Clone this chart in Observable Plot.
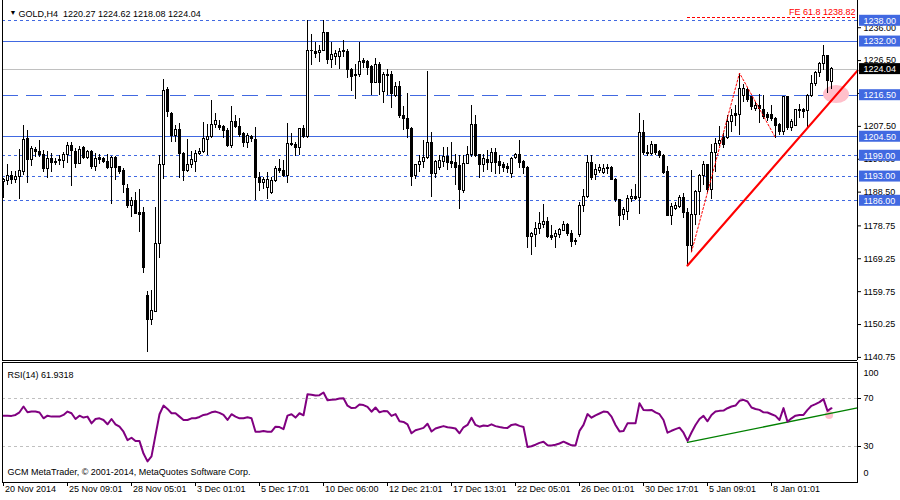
<!DOCTYPE html>
<html><head><meta charset="utf-8">
<script src="https://cdn.jsdelivr.net/npm/d3@7"></script>
<script src="https://cdn.jsdelivr.net/npm/@observablehq/plot@0.6"></script>
<style>
body{margin:0;background:#fff;}
#wrap{position:relative;width:900px;height:500px;overflow:hidden;background:#fff;}
#main{position:absolute;left:0;top:0;}
#rsi{position:absolute;left:0;top:362px;}
</style></head><body><div id="wrap"><div id="main"></div><div id="rsi"></div></div>
<script>
const opens=[
1191.4,1191.7,1193.2,1192.1,1192.9,1194.3,1203.9,1197.9,1200.8,1200.2,
1199.3,1195.2,1198.1,1197.3,1197.9,1197.6,1199.3,1201.7,1200.2,1196.7,
1201.2,1198.3,1200.0,1195.7,1198.3,1198.1,1197.3,1195.4,1198.5,1195.7,
1194.5,1189.4,1184.4,1185.8,1182.5,1182.5,1158.6,1151.6,1154.0,1173.6,
1196.2,1218.1,1211.1,1204.6,1206.5,1199.6,1194.6,1196.4,1197.1,1199.6,
1200.2,1203.7,1204.4,1207.9,1207.7,1207.3,1206.2,1201.8,1208.8,1207.2,
1205.3,1202.7,1204.4,1203.7,1192.6,1191.2,1189.6,1188.2,1191.8,1195.2,
1194.7,1193.1,1202.4,1202.0,1201.3,1206.6,1204.4,1229.4,1229.1,1228.7,
1229.3,1234.5,1226.8,1227.6,1227.6,1229.0,1229.1,1223.7,1222.4,1222.2,
1226.4,1226.0,1224.6,1220.0,1225.3,1217.4,1222.4,1222.4,1216.4,1219.0,
1210.6,1209.7,1206.8,1193.3,1196.4,1197.1,1198.3,1202.8,1193.7,1195.4,
1197.1,1198.6,1197.1,1196.8,1196.0,1188.7,1196.7,1199.1,1208.0,1199.1,
1196.4,1197.9,1197.0,1199.8,1197.1,1196.2,1195.7,1193.7,1198.3,1199.1,
1197.1,1195.5,1175.5,1176.0,1177.9,1179.1,1180.0,1175.8,1175.5,1176.1,
1177.4,1179.0,1176.4,1174.4,1176.0,1184.6,1187.0,1196.9,1193.5,1194.7,
1194.0,1195.5,1195.5,1192.1,1186.1,1181.9,1182.7,1186.5,1187.1,1186.7,
1205.6,1199.8,1199.5,1202.2,1200.0,1198.9,1194.3,1181.7,1183.7,1184.2,
1186.9,1182.5,1172.9,1181.9,1188.5,1193.1,1196.4,1189.2,1199.8,1202.4,
1204.1,1204.1,1208.9,1211.0,1210.8,1216.2,1217.9,1215.9,1212.6,1213.5,
1212.1,1210.8,1210.8,1209.7,1207.9,1205.8,1215.9,1207.0,1207.7,1212.3,
1212.1,1211.8,1216.4,1219.8,1222.9,1225.6,1227.7,1220.27];
const highs=[
1192.3,1196.5,1194.5,1194.5,1200.7,1207.7,1206.3,1201.8,1201.5,1203.3,
1200.5,1200.2,1199.6,1198.1,1199.1,1200.0,1202.9,1202.7,1201.0,1201.7,
1201.6,1200.5,1200.5,1199.8,1199.3,1198.6,1199.3,1198.8,1198.8,1196.0,
1195.2,1190.6,1187.0,1188.5,1189.2,1184.1,1159.8,1160.1,1184.1,1199.1,
1221.0,1218.8,1211.4,1207.7,1208.2,1200.0,1203.7,1200.2,1200.5,1201.2,
1208.5,1207.9,1215.0,1211.1,1209.2,1207.7,1206.8,1213.3,1210.6,1209.7,
1205.8,1205.3,1205.0,1207.3,1194.3,1192.8,1194.3,1192.8,1196.0,1197.9,
1197.6,1208.4,1205.3,1202.9,1206.8,1207.7,1238.0,1234.0,1231.8,1231.0,
1238.0,1234.7,1231.8,1229.4,1229.9,1232.3,1229.6,1224.3,1225.3,1231.8,
1227.0,1226.5,1225.1,1227.0,1226.0,1223.2,1223.9,1223.3,1220.3,1220.6,
1213.3,1216.9,1207.2,1196.6,1199.1,1203.4,1223.3,1205.8,1197.6,1199.1,
1201.5,1201.5,1202.9,1199.3,1199.1,1199.1,1201.7,1213.5,1210.6,1199.3,
1199.3,1200.5,1201.0,1201.0,1199.1,1197.1,1196.7,1198.6,1199.8,1203.4,
1197.6,1196.0,1176.9,1179.6,1182.7,1184.8,1181.3,1178.9,1177.4,1177.9,
1180.0,1179.5,1177.4,1175.0,1185.4,1189.2,1199.1,1199.1,1196.4,1196.4,
1196.4,1196.4,1196.0,1192.5,1186.5,1184.1,1187.5,1189.4,1190.6,1211.1,
1209.1,1202.0,1203.1,1202.4,1200.5,1199.3,1196.0,1185.1,1185.4,1187.5,
1188.0,1183.7,1194.7,1189.0,1193.5,1197.3,1196.6,1202.2,1204.1,1207.5,
1205.3,1210.6,1212.4,1213.5,1222.9,1219.5,1218.3,1216.2,1214.3,1216.6,
1216.4,1211.6,1213.5,1210.1,1208.2,1216.2,1216.2,1209.5,1212.4,1213.7,
1212.7,1216.6,1222.2,1223.3,1226.0,1230.9,1228.0,1224.62];
const lows=[
1186.7,1190.4,1190.6,1190.9,1186.5,1193.3,1190.9,1196.0,1198.6,1198.6,
1194.3,1192.5,1194.1,1196.2,1196.2,1195.4,1196.7,1190.2,1195.2,1196.4,
1197.9,1197.9,1195.0,1194.5,1196.4,1196.7,1195.0,1185.0,1192.0,1193.5,
1188.0,1183.7,1181.3,1181.9,1176.9,1164.9,1142.3,1150.1,1153.8,1169.2,
1192.1,1210.1,1202.7,1202.7,1192.3,1191.7,1194.3,1195.2,1194.1,1199.1,
1199.6,1199.1,1203.9,1206.8,1206.3,1204.1,1201.5,1201.2,1206.8,1204.4,
1201.5,1201.2,1202.7,1186.1,1188.7,1189.4,1186.5,1187.8,1191.4,1193.8,
1192.7,1190.9,1201.8,1198.9,1199.1,1204.1,1204.1,1225.1,1227.2,1226.0,
1229.1,1225.3,1224.1,1225.1,1223.9,1227.5,1221.4,1217.6,1215.4,1221.7,
1224.1,1222.2,1216.4,1219.8,1216.4,1214.0,1216.4,1212.6,1215.9,1209.7,
1206.3,1204.1,1190.2,1192.1,1194.1,1195.2,1197.9,1187.0,1192.5,1194.7,
1195.7,1194.7,1195.2,1190.4,1183.4,1188.0,1196.4,1198.6,1198.6,1192.3,
1194.1,1194.7,1194.1,1193.5,1193.5,1194.3,1193.8,1192.5,1197.9,1195.2,
1193.5,1172.3,1170.2,1172.6,1176.2,1177.9,1175.0,1174.5,1172.3,1175.2,
1177.1,1175.8,1172.6,1173.1,1175.5,1182.7,1186.7,1191.9,1191.9,1193.8,
1193.5,1193.5,1191.9,1185.6,1178.7,1180.3,1180.3,1185.6,1186.0,1182.0,
1199.1,1198.9,1199.1,1199.1,1198.3,1193.5,1181.5,1179.0,1183.3,1183.9,
1180.8,1167.3,1171.2,1178.9,1181.7,1190.4,1188.5,1186.5,1194.3,1201.8,
1201.2,1203.7,1205.8,1207.5,1204.9,1214.3,1214.5,1212.1,1211.8,1208.2,
1209.5,1208.9,1208.9,1204.1,1205.0,1205.0,1206.3,1206.0,1207.5,1209.7,
1209.7,1206.8,1215.9,1219.1,1221.7,1223.6,1216.9,1218.08];
const closes=[
1191.9,1193.2,1192.1,1192.8,1194.5,1203.7,1197.9,1201.0,1200.0,1199.1,
1195.2,1198.1,1197.0,1196.8,1197.5,1199.3,1201.7,1200.4,1196.6,1200.7,
1198.3,1200.0,1195.7,1198.1,1197.9,1197.3,1195.4,1198.5,1195.5,1194.3,
1190.6,1184.4,1185.8,1182.1,1181.9,1166.5,1151.6,1154.2,1173.6,1196.2,
1217.8,1211.6,1204.6,1206.5,1199.6,1194.6,1196.4,1197.9,1199.6,1200.2,
1203.9,1204.4,1207.9,1209.1,1207.0,1206.2,1201.8,1208.8,1207.3,1204.9,
1202.7,1204.7,1203.9,1192.6,1191.2,1192.1,1192.1,1191.8,1195.2,1194.5,
1193.1,1202.4,1202.1,1201.3,1206.6,1204.4,1229.3,1229.2,1228.4,1229.3,
1234.5,1226.8,1228.2,1228.3,1229.1,1229.3,1223.7,1221.7,1222.1,1226.0,
1225.8,1224.3,1220.0,1225.3,1220.0,1222.2,1222.0,1216.8,1219.0,1210.4,
1209.7,1206.8,1192.8,1196.4,1197.3,1198.5,1202.6,1193.7,1197.1,1197.6,
1198.6,1197.0,1196.7,1195.4,1189.2,1196.7,1199.3,1208.0,1198.9,1196.4,
1198.1,1197.0,1199.8,1197.0,1196.0,1195.4,1195.2,1198.1,1199.1,1197.0,
1195.5,1175.5,1176.3,1177.9,1179.3,1180.0,1175.5,1175.2,1176.4,1177.6,
1179.0,1176.3,1174.0,1174.0,1184.6,1187.0,1196.9,1192.5,1195.0,1195.5,
1195.2,1195.2,1192.1,1186.1,1181.7,1183.2,1186.5,1187.1,1186.5,1205.6,
1199.8,1199.5,1202.2,1199.8,1198.8,1194.1,1181.7,1184.1,1184.4,1186.9,
1182.5,1172.9,1181.9,1188.5,1193.3,1196.4,1189.2,1199.8,1202.4,1203.4,
1202.0,1208.9,1210.6,1210.6,1218.3,1218.3,1215.0,1213.0,1213.3,1212.4,
1210.1,1209.9,1209.5,1207.7,1205.8,1215.9,1207.0,1208.9,1212.1,1211.9,
1211.6,1216.4,1219.8,1222.9,1225.6,1227.7,1220.5,1224.04];
const rsiValues=[
55.7,55.7,55.5,56.3,58.5,63.3,58.5,59.1,59.1,58.3,
53.5,55.7,54.9,54.9,54.9,56.3,59.1,57.7,52.9,55.7,
54.1,54.9,49.3,52.9,53.5,52.1,48.5,52.9,48.5,46.5,
42.3,35.3,37.3,34.5,34.5,24.1,17.6,21.8,39.5,56.9,
64.1,61.3,57.7,57.7,54.9,52.1,52.1,53.5,53.5,54.6,
56.3,56.9,58.5,59.1,58.0,56.3,52.1,56.9,54.9,53.5,
53.5,54.3,53.5,42.3,42.3,42.9,42.3,42.3,46.5,46.2,
44.5,55.7,56.9,54.1,57.7,56.0,73.5,73.2,72.5,72.8,
75.0,68.5,69.0,69.2,70.0,70.2,64.0,62.0,62.3,65.0,
64.5,63.0,59.0,62.5,58.5,59.5,59.3,55.5,57.0,51.0,
50.5,48.5,41.0,43.5,44.5,45.5,49.0,42.5,45.0,46.0,
47.0,46.0,45.7,45.0,41.0,46.0,48.0,54.0,48.0,46.5,
47.5,47.0,48.5,47.0,46.2,45.7,45.5,48.0,48.5,47.2,
46.2,29.5,30.2,31.5,33.0,34.0,31.0,30.8,31.5,32.5,
34.0,32.5,31.0,30.8,43.0,48.0,57.0,54.0,56.0,57.5,
59.1,58.8,54.9,47.9,42.6,42.9,49.3,49.3,49.3,66.1,
60.5,60.2,60.5,58.5,56.9,52.1,41.5,43.1,44.5,45.7,
41.5,34.7,41.7,47.9,52.9,55.5,51.0,56.3,59.1,59.7,
59.9,61.9,63.3,64.1,68.1,68.9,67.5,62.5,61.3,60.5,
58.5,58.3,56.9,55.5,52.1,62.0,50.7,53.5,55.7,56.3,
56.3,60.5,63.9,65.3,67.0,69.5,59.7,61.93];

const timeTickIndex=[0,16,32,48,64,80,96,112,128,144,160,176,192];
const timeTickLabels=["20 Nov 2014","25 Nov 09:01","28 Nov 05:01","3 Dec 01:01","5 Dec 17:01","10 Dec 06:00","12 Dec 21:01","17 Dec 13:01","22 Dec 05:01","26 Dec 01:01","30 Dec 17:01","5 Jan 09:01","8 Jan 01:01"];
const priceTicks=[1140.75,1150.25,1159.75,1169.25,1178.75,1188.50,1198.00,1207.50,1217.00,1226.50,1236.00];
const dotLevels=[1238,1199,1193,1186];
const solidLevels=[1232,1204.5];
const dashLevels=[1216.5];
const levelLabels=[1238,1232,1216.5,1204.5,1199,1193,1186];
const lastPrice=[1224.04];
const trendLine=[{i:171,p:1167.3},{i:213.5,p:1223.6}];
const fiboPath=[{i:172,p:1171.2},{i:184,p:1222.9},{i:193,p:1204.2}];
const fiboLevel=[{i1:171,i2:213.5,p:1238.82,label:"FE 61.8 1238.82"}];
const highlight=[{i1:205,i2:211.5,p1:1214.1,p2:1219.3}];
const rsiLevels=[70,30];
const rsiTrend=[{i:171,v:33.4},{i:213.5,v:62.2}];
const rsiMark=[{i:206.4,v:56.3}];
const titleText=["GOLD,H4  1220.27 1224.62 1218.08 1224.04"];
const rsiTitle=["RSI(14) 61.9318"];
const copyright=["GCM MetaTrader, \u00a9 2001-2014, MetaQuotes Software Corp."];

const BLUE="#4169e1";
const FONT="'Liberation Sans', Arial, sans-serif";
const candles=closes.map((c,i)=>({i,o:opens[i],h:highs[i],l:lows[i],c}));
const bull=candles.filter(d=>d.c>=d.o), bear=candles.filter(d=>d.c<d.o);
const XD=[-0.25,213.5];

const main=Plot.plot({
  width:900,height:362,marginLeft:2,marginRight:43,marginTop:0,marginBottom:2,
  x:{domain:XD,axis:null},
  y:{domain:[1139.86,1243.86],axis:null},
  style:{fontFamily:FONT,fontSize:"9px",background:"white",color:"black",overflow:"visible"},
  marks:[
    Plot.ruleY(dotLevels,{stroke:BLUE,strokeDasharray:"3,3",shapeRendering:"crispEdges"}),
    Plot.ruleY(solidLevels,{stroke:BLUE,shapeRendering:"crispEdges"}),
    Plot.ruleY(dashLevels,{stroke:BLUE,strokeDasharray:"16,8",shapeRendering:"crispEdges"}),
    Plot.ruleY(lastPrice,{stroke:"#c0c0c0",shapeRendering:"crispEdges"}),
    Plot.ruleY(fiboLevel,{y:"p",x1:"i1",x2:"i2",stroke:"red",strokeDasharray:"3,2",shapeRendering:"crispEdges"}),
    Plot.rect(highlight,{x1:"i1",x2:"i2",y1:"p1",y2:"p2",rx:13,ry:9,fill:"#ffc0cb"}),
    Plot.ruleX(candles,{x:"i",y1:"l",y2:"h",stroke:"black",shapeRendering:"crispEdges"}),
    Plot.rect(bull,{x1:d=>d.i-0.25,x2:d=>d.i+0.25,y1:"o",y2:"c",fill:"white",stroke:"black",shapeRendering:"crispEdges"}),
    Plot.rect(bear,{x1:d=>d.i-0.25,x2:d=>d.i+0.25,y1:"o",y2:"c",fill:"black",stroke:"black",shapeRendering:"crispEdges"}),
    Plot.line(fiboPath,{x:"i",y:"p",stroke:"red",strokeWidth:1,strokeDasharray:"2,2"}),
    Plot.line(trendLine,{x:"i",y:"p",stroke:"red",strokeWidth:2.2}),
    Plot.text(fiboLevel,{x:"i2",y:"p",text:"label",textAnchor:"end",dx:-2,dy:-6,fill:"red"}),
    Plot.ruleX([XD[0],XD[1]],{stroke:"black"}),
    Plot.ruleY([1139.86],{stroke:"black"}),
    Plot.axisY(priceTicks,{anchor:"right",tickSize:3,tickPadding:3,tickFormat:d=>d.toFixed(2),label:null}),
    Plot.rect(levelLabels,{x1:()=>XD[1],x2:()=>XD[1],y1:d=>d,y2:d=>d,insetLeft:2,insetRight:-43,insetTop:-5.5,insetBottom:-5.5,fill:BLUE}),
    Plot.text(levelLabels,{y:d=>d,text:d=>d.toFixed(2),frameAnchor:"right",dx:6,textAnchor:"start",fill:"white"}),
    Plot.rect(lastPrice,{x1:()=>XD[1],x2:()=>XD[1],y1:d=>d,y2:d=>d,insetLeft:2,insetRight:-43,insetTop:-5.5,insetBottom:-5.5,fill:"black"}),
    Plot.text(lastPrice,{y:d=>d,text:d=>d.toFixed(2),frameAnchor:"right",dx:6,textAnchor:"start",fill:"white"}),
    Plot.text(["\u25bc"],{frameAnchor:"top-left",dx:7,dy:10,textAnchor:"start",fontSize:7}),
    Plot.text(titleText,{frameAnchor:"top-left",dx:16,dy:10,textAnchor:"start"})
  ]
});
document.getElementById("main").appendChild(main);

const rsiRows=rsiValues.map((v,i)=>({i,v}));
const rsiPlot=Plot.plot({
  width:900,height:138,marginLeft:2,marginRight:43,marginTop:0,marginBottom:18,
  x:{domain:XD,axis:null},
  y:{domain:[0,100],axis:null},
  style:{fontFamily:FONT,fontSize:"9px",background:"white",color:"black",overflow:"visible"},
  marks:[
    Plot.ruleY(rsiLevels,{stroke:"#c0c0c0",strokeDasharray:"3,3",shapeRendering:"crispEdges"}),
    Plot.dot(rsiMark,{x:"i",y:"v",r:4,fill:"#ffc0cb"}),
    Plot.line(rsiTrend,{x:"i",y:"v",stroke:"#008000",strokeWidth:1.3}),
    Plot.line(rsiRows,{x:"i",y:"v",stroke:"#800080",strokeWidth:2}),
    Plot.frame({stroke:"black"}),
    Plot.axisY(rsiLevels,{anchor:"right",tickSize:3,tickPadding:3,label:null}),
    Plot.text(["100"],{frameAnchor:"top-right",dx:6,dy:7,textAnchor:"start"}),
    Plot.text(["0"],{frameAnchor:"bottom-right",dx:6,dy:-7,textAnchor:"start"}),
    Plot.axisX(timeTickIndex,{anchor:"bottom",tickSize:4,tickFormat:()=>"",label:null}),
    Plot.text(timeTickIndex,{x:d=>d,text:(d,k)=>timeTickLabels[k],frameAnchor:"bottom",dy:9,dx:1.5,textAnchor:"start"}),
    Plot.text(rsiTitle,{frameAnchor:"top-left",dx:5,dy:9,textAnchor:"start"}),
    Plot.text(copyright,{frameAnchor:"bottom-left",dx:5,dy:-8,textAnchor:"start"})
  ]
});
document.getElementById("rsi").appendChild(rsiPlot);
</script></body></html>
